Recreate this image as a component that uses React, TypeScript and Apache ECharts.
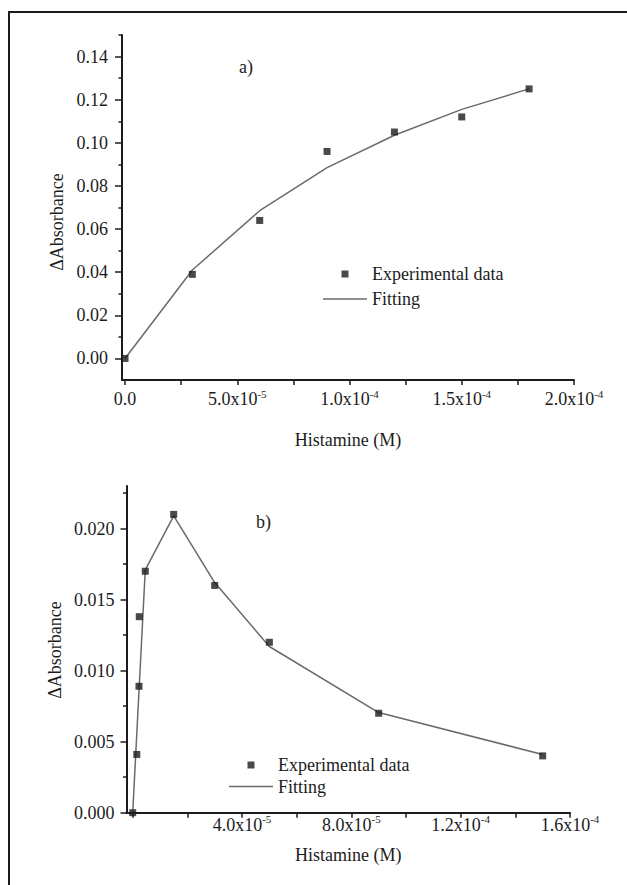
import React, { useEffect, useRef } from "react";
import * as echarts from "echarts";

// ---- Data: panel a) ----
const xA = [0, 3e-5, 6e-5, 9e-5, 1.2e-4, 1.5e-4, 1.8e-4];
const yA = [0, 0.039, 0.064, 0.096, 0.105, 0.112, 0.125];
const fitYA = [0, 0.041, 0.0685, 0.0885, 0.1035, 0.1155, 0.125];

// ---- Data: panel b) ----
const xB = [0, 1.5e-6, 2.3e-6, 2.4e-6, 4.6e-6, 1.5e-5, 3e-5, 5e-5, 9e-5, 1.5e-4];
const yB = [0, 0.0041, 0.0089, 0.0138, 0.017, 0.021, 0.016, 0.012, 0.007, 0.004];
const fitXB = [0, 4.6e-6, 1.5e-5, 3e-5, 5e-5, 9e-5, 1.5e-4];
const fitYB = [0, 0.0171, 0.0209, 0.0162, 0.0117, 0.00705, 0.0041];

// ---- Ticks / labels ----
const xTicksA = [0, 2.5e-5, 5e-5, 7.5e-5, 1e-4, 1.25e-4, 1.5e-4, 1.75e-4, 2e-4];
const xLabelsA = [0, 5e-5, 1e-4, 1.5e-4, 2e-4];
const yMajorA = [0, 0.02, 0.04, 0.06, 0.08, 0.1, 0.12, 0.14];
const yMinorA = [0.01, 0.03, 0.05, 0.07, 0.09, 0.11, 0.13, 0.15];

const xTicksB = [0, 2e-5, 4e-5, 6e-5, 8e-5, 1e-4, 1.2e-4, 1.4e-4, 1.6e-4];
const xLabelsB = [4e-5, 8e-5, 1.2e-4, 1.6e-4];
const yMajorB = [0, 0.005, 0.01, 0.015, 0.02];
const yMinorB = [0.0025, 0.0075, 0.0125, 0.0175, 0.0225];

const seriesNames = ["Experimental data", "Fitting"];
const yTitle = "\u0394Absorbance";
const xTitle = "Histamine (M)";

const FONT = '"Liberation Serif", "Times New Roman", serif';
const INK = "#1c1c1c";
const LINE = "#6a6a6a";

function sciLabel(v: number): string {
  if (v === 0) return "{m|0.0}";
  const e = Math.floor(Math.log10(v) + 1e-9);
  const m = v / Math.pow(10, e);
  return `{m|${m.toFixed(1)}x10}{e|${e}}`;
}

const rich = {
  m: { fontSize: 18, fontFamily: FONT, color: INK, lineHeight: 20, padding: [6, 0, 0, 0], verticalAlign: "bottom" },
  e: { fontSize: 11, fontFamily: FONT, color: INK, lineHeight: 12, verticalAlign: "top" },
};

function xAxisFor(grid: number, min: number, max: number, ticks: number[], labels: number[], margin: number, nameGap: number) {
  return {
    type: "value",
    gridIndex: grid,
    position: "bottom",
    min,
    max,
    splitLine: { show: false },
    axisLine: { show: true, onZero: false, lineStyle: { color: INK, width: 2 } },
    axisTick: { show: true, customValues: ticks, length: 5, lineStyle: { color: INK, width: 1.5 } },
    axisLabel: { customValues: labels, formatter: sciLabel, rich, margin, color: INK },
    name: xTitle,
    nameLocation: "middle",
    nameGap,
    nameTextStyle: { fontFamily: FONT, fontSize: 18, color: INK, verticalAlign: "top" },
  };
}

function yAxisMajor(grid: number, min: number, max: number, ticks: number[], digits: number, margin: number, len: number) {
  return {
    type: "value",
    gridIndex: grid,
    position: "left",
    min,
    max,
    splitLine: { show: false },
    axisLine: { show: true, onZero: false, lineStyle: { color: INK, width: 2 } },
    axisTick: { show: true, customValues: ticks, length: len, lineStyle: { color: INK, width: 1.5 } },
    axisLabel: {
      customValues: ticks,
      formatter: (v: number) => v.toFixed(digits),
      margin,
      fontFamily: FONT,
      fontSize: 18,
      color: INK,
    },
  };
}

function yAxisMinor(grid: number, min: number, max: number, ticks: number[]) {
  return {
    type: "value",
    gridIndex: grid,
    position: "left",
    offset: 0,
    min,
    max,
    splitLine: { show: false },
    axisLine: { show: false, onZero: false },
    axisTick: { show: true, customValues: ticks, length: 3.5, lineStyle: { color: INK, width: 1.5 } },
    axisLabel: { show: false },
  };
}

const squareIcon = "path://M0,0h10v10h-10z";
const lineIcon = "path://M0,0h44v1.5h-44z";

function legendFor(left: number, top: number, gap: number) {
  return {
    left,
    top,
    orient: "vertical",
    itemWidth: 44,
    itemHeight: 7,
    itemGap: gap,
    selectedMode: false,
    symbolKeepAspect: true,
    textStyle: { fontFamily: FONT, fontSize: 18, color: INK },
    data: [
      { name: seriesNames[0], icon: squareIcon },
      { name: seriesNames[1], icon: lineIcon, itemStyle: { color: LINE } },
    ],
  };
}

export default function App() {
  const ref = useRef<HTMLDivElement>(null);
  useEffect(() => {
    if (!ref.current) return;
    const chart = echarts.init(ref.current, null, { renderer: "svg" });
    const option: any = {
      animation: false,
      backgroundColor: "#ffffff",
      textStyle: { fontFamily: FONT },
      grid: [
        { left: 122, top: 35, width: 452, height: 345 },
        { left: 126.5, top: 486, width: 443.5, height: 326.7 },
      ],
      xAxis: [
        xAxisFor(0, -1.34e-6, 2e-4, xTicksA, xLabelsA, 8, 51),
        xAxisFor(1, -2.27e-6, 1.6e-4, xTicksB, xLabelsB, 1, 33),
      ],
      yAxis: [
        yAxisMajor(0, -0.01, 0.15, yMajorA, 2, 14, 7),
        yAxisMinor(0, -0.01, 0.15, yMinorA),
        yAxisMajor(1, 0, 0.023, yMajorB, 3, 12, 6),
        yAxisMinor(1, 0, 0.023, yMinorB),
      ],
      legend: [legendFor(318, 260, 7), legendFor(224, 751, 3.5)],
      series: [
        {
          name: seriesNames[1],
          type: "line",
          xAxisIndex: 0,
          yAxisIndex: 0,
          symbol: "none",
          lineStyle: { color: LINE, width: 1.5 },
          itemStyle: { color: LINE },
          data: xA.map((x, i) => [x, fitYA[i]]),
          z: 2,
        },
        {
          name: seriesNames[0],
          type: "scatter",
          xAxisIndex: 0,
          yAxisIndex: 0,
          symbol: "rect",
          symbolSize: 7,
          itemStyle: { color: INK },
          data: xA.map((x, i) => [x, yA[i]]),
          z: 3,
        },
        {
          name: seriesNames[1],
          type: "line",
          xAxisIndex: 1,
          yAxisIndex: 2,
          symbol: "none",
          lineStyle: { color: LINE, width: 1.5 },
          itemStyle: { color: LINE },
          data: fitXB.map((x, i) => [x, fitYB[i]]),
          z: 2,
        },
        {
          name: seriesNames[0],
          type: "scatter",
          xAxisIndex: 1,
          yAxisIndex: 2,
          symbol: "rect",
          symbolSize: 7,
          itemStyle: { color: INK },
          data: xB.map((x, i) => [x, yB[i]]),
          z: 3,
        },
      ],
      graphic: [
        { type: "line", shape: { x1: 9, y1: 12, x2: 9, y2: 885 }, style: { stroke: INK, lineWidth: 2 } },
        { type: "line", shape: { x1: 8, y1: 12, x2: 627, y2: 12 }, style: { stroke: INK, lineWidth: 2 } },
        {
          type: "text",
          x: 57,
          y: 222,
          rotation: Math.PI / 2,
          style: { text: yTitle, font: `18px ${FONT}`, fill: INK, align: "center", verticalAlign: "middle" },
        },
        {
          type: "text",
          x: 55,
          y: 650,
          rotation: Math.PI / 2,
          style: { text: yTitle, font: `18px ${FONT}`, fill: INK, align: "center", verticalAlign: "middle" },
        },
        {
          type: "text",
          x: 239,
          y: 67,
          style: { text: "a)", font: `18px ${FONT}`, fill: INK, align: "left", verticalAlign: "middle" },
        },
        {
          type: "text",
          x: 256,
          y: 522,
          style: { text: "b)", font: `18px ${FONT}`, fill: INK, align: "left", verticalAlign: "middle" },
        },
      ],
    };
    chart.setOption(option);
    return () => chart.dispose();
  }, []);
  return (
    <div
      ref={ref}
      style={{ position: "absolute", left: 0, top: 0, width: 627, height: 885, background: "#fff" }}
    />
  );
}
